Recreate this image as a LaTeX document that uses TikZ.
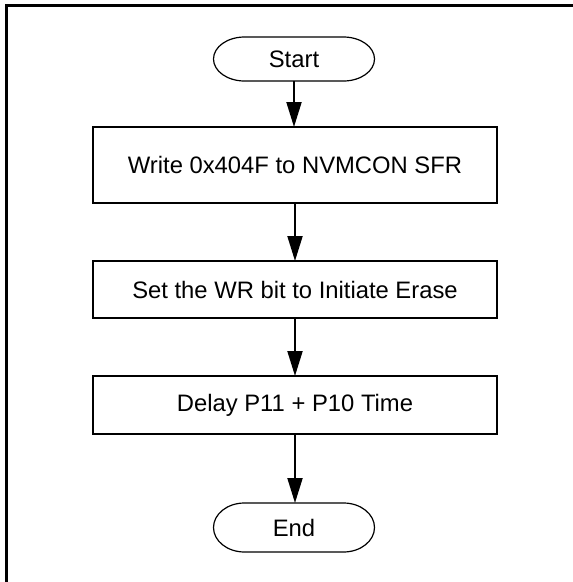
\documentclass[tikz,border=0pt]{standalone}
\usepackage{fontspec}
\setmainfont{Liberation Sans}
\usetikzlibrary{arrows.meta}
\begin{document}
\begin{tikzpicture}[x=1pt,y=-1pt,
  every node/.style={font=\fontsize{23.8}{28}\selectfont, inner sep=0pt, outer sep=0pt},
  procbox/.style={draw, line width=2pt, minimum width=404pt},
  termbox/.style={minimum width=161pt},
  termline/.style={line width=1.2pt},
  flow/.style={line width=2pt, -{Triangle[length=25pt,width=15pt]}},
  framestyle/.style={line width=3pt}]
\useasboundingbox (0,0) rectangle (573,582);
\draw[framestyle] (6.5,582) -- (6.5,5) -- (573,5);
\node[termbox, minimum height=44pt] (start) at (294,59) {Start};
\node[procbox, minimum height=76pt] (w) at (295,165) {Write 0x404F to NVMCON SFR};
\node[procbox, minimum height=57pt] (s) at (295,289.5) {Set the WR bit to Initiate Erase};
\node[procbox, minimum height=58pt] (d) at (295,405) {Delay P11 + P10 Time};
\node[termbox, minimum height=49pt] (e) at (294,527.5) {End};
\foreach \n/\ry in {start/22,e/24.5}{
  \draw[termline] ([xshift=31pt]\n.north west) -- ([xshift=-31pt]\n.north east)
    arc[start angle=90,end angle=-90,x radius=31pt,y radius=\ry pt]
    -- ([xshift=31pt]\n.south west)
    arc[start angle=270,end angle=90,x radius=31pt,y radius=\ry pt] -- cycle;
}
\draw[flow] (start.south) -- (start.south |- w.north);
\draw[flow] (w.south) -- (s.north);
\draw[flow] (s.south) -- (d.north);
\draw[flow] (d.south) -- (d.south |- e.north);
\end{tikzpicture}
\end{document}
